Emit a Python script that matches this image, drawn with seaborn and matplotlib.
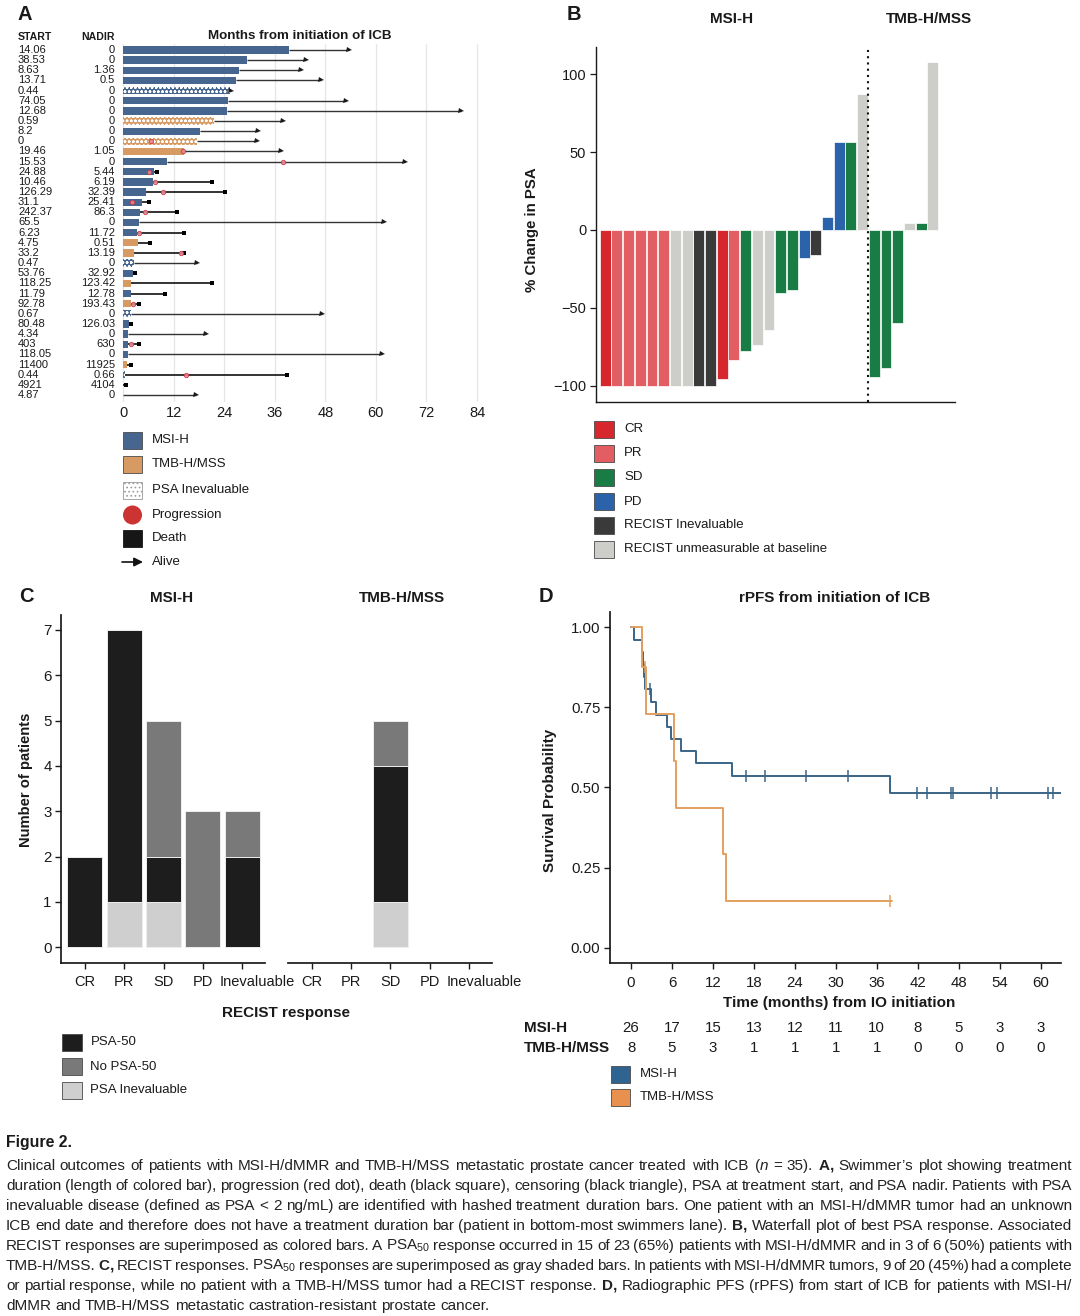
import numpy as np
import pandas as pd
import matplotlib
matplotlib.use("Agg")
import matplotlib.pyplot as plt
import matplotlib.transforms as mtrans
from matplotlib import font_manager
from matplotlib.patches import Rectangle, Circle
import seaborn as sns

# ======================= DATA =======================
M, T = "MSI-H", "TMB-H/MSS"

# ---- Panel A: swimmer plot (rows from top to bottom)
a_start = ["14.06", "38.53", "8.63", "13.71", "0.44", "74.05", "12.68", "0.59", "8.2", "0",
           "19.46", "15.53", "24.88", "10.46", "126.29", "31.1", "242.37", "65.5", "6.23", "4.75",
           "33.2", "0.47", "53.76", "118.25", "11.79", "92.78", "0.67", "80.48", "4.34", "403",
           "118.05", "11400", "0.44", "4921", "4.87"]
a_nadir = ["0", "0", "1.36", "0.5", "0", "0", "0", "0", "0", "0",
           "1.05", "0", "5.44", "6.19", "32.39", "25.41", "86.3", "0", "11.72", "0.51",
           "13.19", "0", "32.92", "123.42", "12.78", "193.43", "0", "126.03", "0", "630",
           "0", "11925", "0.66", "4104", "0"]
a_group = [M, M, M, M, M, M, M, T, M, T,
           T, M, M, M, M, M, M, M, M, T,
           T, M, M, T, M, T, M, M, M, M,
           M, T, M, M, M]
a_duration = [39.4, 29.4, 27.5, 26.7, 25.4, 24.9, 24.6, 21.6, 18.3, 17.6,
              14.5, 10.5, 7.4, 7.2, 5.5, 4.5, 4.0, 3.7, 3.4, 3.5,
              2.6, 2.6, 2.3, 2.0, 2.0, 1.8, 1.8, 1.5, 1.2, 1.2,
              1.2, 0.9, 0.5, 0.0, 0.0]
a_psa_ineval = [0, 0, 0, 0, 1, 0, 0, 1, 0, 1,
                0, 0, 0, 0, 0, 0, 0, 0, 0, 0,
                0, 1, 0, 0, 0, 0, 1, 0, 0, 0,
                0, 0, 1, 0, 0]
nan = np.nan
a_progression = [nan, nan, nan, nan, nan, nan, nan, nan, nan, 6.6,
                 14.2, 37.9, 6.2, 7.5, 9.4, 2.1, 5.3, nan, 3.7, nan,
                 13.7, nan, nan, nan, nan, 2.3, nan, nan, nan, 1.9,
                 nan, nan, 15.0, nan, nan]
a_last_followup = [53.6, 43.4, 42.2, 47.1, 25.6, 52.8, 80.1, 37.9, 32.0, 31.7,
                   37.5, 66.8, 8.1, 21.0, 24.1, 6.2, 12.9, 61.9, 14.5, 6.5,
                   14.5, 17.6, 2.9, 21.0, 9.9, 3.7, 47.2, 2.0, 19.8, 3.7,
                   61.4, 1.9, 38.8, 0.6, 17.3]
a_outcome = ["Alive"] * 12 + ["Death"] * 5 + [
    "Alive", "Death", "Death", "Death", "Alive", "Death", "Death", "Death", "Death",
    "Alive", "Death", "Alive", "Death", "Alive", "Death", "Death", "Death", "Alive"]
a_ticks = [0, 12, 24, 36, 48, 60, 72, 84]

# ---- Panel B: waterfall of best PSA change
CR, PR, SD, PD = "CR", "PR", "SD", "PD"
RI, RU = "RECIST Inevaluable", "RECIST unmeasurable at baseline"
b_change = [-100, -100, -100, -100, -100, -100, -100, -100, -100, -100,
            -95.7, -83.7, -77.5, -74.1, -64.0, -40.5, -38.3, -18.0, -16.3, 8.6,
            56.3, 56.3, 87.6,
            -94.2, -88.9, -60.0, 4.3, 4.7, 107.9]
b_recist = [CR, PR, PR, PR, PR, PR, RU, RU, RI, RI,
            CR, PR, SD, RU, RU, SD, SD, PD, RI, PD,
            PD, SD, RU,
            SD, SD, SD, RU, SD, RU]
b_cohort = [M] * 23 + [T] * 6
b_yticks = [-100, -50, 0, 50, 100]

# ---- Panel C: RECIST response counts
c_response = ["CR", "PR", "SD", "PD", "Inevaluable"]
c_msi_psa50 = [2, 6, 1, 0, 2]
c_msi_no_psa50 = [0, 0, 3, 3, 1]
c_msi_psa_ineval = [0, 1, 1, 0, 0]
c_tmb_psa50 = [0, 0, 3, 0, 0]
c_tmb_no_psa50 = [0, 0, 1, 0, 0]
c_tmb_psa_ineval = [0, 0, 1, 0, 0]

# ---- Panel D: Kaplan-Meier rPFS
km_msi_time = [0, 0.4, 1.6, 1.75, 1.9, 2.05, 2.9, 3.7, 5.2, 5.8, 7.3, 9.5, 14.8, 38.0, 63.0]
km_msi_surv = [1.0, 0.962, 0.923, 0.885, 0.846, 0.808, 0.767, 0.727, 0.690, 0.652,
               0.613, 0.575, 0.537, 0.484, 0.484]
km_msi_censor = [2.8, 16.9, 19.6, 25.7, 31.8, 41.9, 43.3, 46.9, 47.2, 52.7, 53.6, 61.1, 61.8]
km_tmb_time = [0, 1.6, 2.15, 6.3, 6.6, 13.5, 13.9, 38.2]
km_tmb_surv = [1.0, 0.875, 0.729, 0.583, 0.437, 0.292, 0.146, 0.146]
km_tmb_censor = [2.0, 38.0]
d_risk_times = [0, 6, 12, 18, 24, 30, 36, 42, 48, 54, 60]
d_risk_msi = [26, 17, 15, 13, 12, 11, 10, 8, 5, 3, 3]
d_risk_tmb = [8, 5, 3, 1, 1, 1, 1, 0, 0, 0, 0]

# ---- Caption
caption_title = "Figure 2."
caption_lines = [
    r"Clinical outcomes of patients with MSI-H/dMMR and TMB-H/MSS metastatic prostate cancer treated with ICB ($n$ = 35). $\mathbf{A,}$ Swimmer’s plot showing treatment",
    r"duration (length of colored bar), progression (red dot), death (black square), censoring (black triangle), PSA at treatment start, and PSA nadir. Patients with PSA",
    r"inevaluable disease (defined as PSA < 2 ng/mL) are identified with hashed treatment duration bars. One patient with an MSI-H/dMMR tumor had an unknown",
    r"ICB end date and therefore does not have a treatment duration bar (patient in bottom-most swimmers lane). $\mathbf{B,}$ Waterfall plot of best PSA response. Associated",
    r"RECIST responses are superimposed as colored bars. A PSA$_{50}$ response occurred in 15 of 23 (65%) patients with MSI-H/dMMR and in 3 of 6 (50%) patients with",
    r"TMB-H/MSS. $\mathbf{C,}$ RECIST responses. PSA$_{50}$ responses are superimposed as gray shaded bars. In patients with MSI-H/dMMR tumors, 9 of 20 (45%) had a complete",
    r"or partial response, while no patient with a TMB-H/MSS tumor had a RECIST response. $\mathbf{D,}$ Radiographic PFS (rPFS) from start of ICB for patients with MSI-H/",
    r"dMMR and TMB-H/MSS metastatic castration-resistant prostate cancer.",
]

# ======================= STYLE =======================
sns.set_theme(style="white")
FONT = "Liberation Sans"
plt.rcParams["font.family"] = [FONT, "DejaVu Sans"]
plt.rcParams["text.color"] = "#1a1a1a"
plt.rcParams["axes.labelcolor"] = "#1a1a1a"
plt.rcParams["xtick.color"] = "#1a1a1a"
plt.rcParams["ytick.color"] = "#1a1a1a"
plt.rcParams["axes.edgecolor"] = "#1a1a1a"
plt.rcParams["hatch.linewidth"] = 0.7

names = {f.name for f in font_manager.fontManager.ttflist}
CAP_FONT = "Liberation Sans Narrow" if "Liberation Sans Narrow" in names else FONT
plt.rcParams["mathtext.fontset"] = "custom"
plt.rcParams["mathtext.rm"] = CAP_FONT
plt.rcParams["mathtext.it"] = CAP_FONT + ":italic"
plt.rcParams["mathtext.bf"] = CAP_FONT + ":bold"

col_group = {M: "#46658f", T: "#d69a62"}
b_palette = {CR: "#d6262e", PR: "#e35e62", SD: "#1a7c45", PD: "#2a63a9",
             RI: "#3a3a3a", RU: "#cdcdca"}
c_palette = {"PSA-50": "#1d1d1d", "No PSA-50": "#797979", "PSA Inevaluable": "#cfcfcf"}
d_palette = {M: "#3a6587", T: "#e39f60"}
d_leg_palette = {M: "#2f6491", T: "#e8914e"}

W, H = 1080, 1316
fig = plt.figure(figsize=(W / 100, H / 100), dpi=100)


def add_ax(l, t, r, b):
    return fig.add_axes([l / W, 1 - b / H, (r - l) / W, (b - t) / H])


# ======================= PANEL A =======================
KA = 354 / 84.0
a_xlim = (-0.5, 86.0)
a_ylim = (34.69, -0.59)
ax_a = add_ax(123 + a_xlim[0] * KA, 44, 123 + a_xlim[1] * KA, 402)
n_rows = len(a_start)
rows = np.arange(n_rows)
for i in rows:
    dur, end = a_duration[i], a_last_followup[i]
    alive = a_outcome[i] == "Alive"
    if end > dur:
        ax_a.plot([dur, end], [i, i], color="#333333" if alive else "#111111",
                  lw=1.0 if alive else 1.2, zorder=2, solid_capstyle="butt")
    if dur > 0:
        col = col_group[a_group[i]]
        if a_psa_ineval[i]:
            ax_a.barh(i, dur, height=0.72, color=col, edgecolor="white", hatch="oooo",
                      linewidth=0, zorder=3)
        else:
            ax_a.barh(i, dur, height=0.72, color=col, linewidth=0, zorder=3)
    if alive:
        ax_a.plot(end, i, marker=">", ms=3.6, color="#1a1a1a", mew=0, zorder=5)
    else:
        ax_a.plot(end, i, marker="s", ms=3.4, color="black", mew=0, zorder=5)
    if not np.isnan(a_progression[i]):
        ax_a.plot(a_progression[i], i, marker="o", ms=3.2, mfc="#e8858f",
                  mec="#cc3344", mew=0.6, alpha=0.9, zorder=6)

ax_a.set_xlim(*a_xlim)
ax_a.set_ylim(*a_ylim)
ax_a.set_xticks(a_ticks)
ax_a.set_yticks([])
ax_a.grid(axis="x", color="#e6e6e6", lw=0.9)
ax_a.set_axisbelow(True)
for s in ax_a.spines.values():
    s.set_visible(False)
ax_a.tick_params(axis="x", length=0, labelsize=10.5, pad=3)
ax_a.patch.set_visible(False)

tr_rows = mtrans.blended_transform_factory(fig.transFigure, ax_a.transData)
for i in rows:
    ax_a.text(18 / W, i, a_start[i], transform=tr_rows, ha="left", va="center",
              fontsize=8, clip_on=False)
    ax_a.text(115 / W, i, a_nadir[i], transform=tr_rows, ha="right", va="center",
              fontsize=8, clip_on=False)

# ======================= PANEL B =======================
KB = 11.70
b_x0 = 605.2
b_xlim = (-0.79, 29.9)
b_ylim = (-110.7, 117.7)
ax_b = add_ax(b_x0 + b_xlim[0] * KB, 46.7, b_x0 + b_xlim[1] * KB, 402.3)
dfb = pd.DataFrame({"patient": np.arange(len(b_change)), "change": b_change,
                    "recist": b_recist, "cohort": b_cohort})
sns.barplot(data=dfb, x="patient", y="change", hue="recist", hue_order=list(b_palette),
            palette=b_palette, dodge=False, width=0.93, saturation=1, errorbar=None,
            edgecolor="white", linewidth=0.5, legend=False, ax=ax_b)
n_msi = sum(1 for c in b_cohort if c == M)
ax_b.axvline(n_msi - 0.5, color="#111111", lw=1.5, ls=(0, (1, 2)), zorder=5)
ax_b.set_xlim(*b_xlim)
ax_b.set_ylim(*b_ylim)
ax_b.set_yticks(b_yticks)
ax_b.set_xticks([])
ax_b.set_xlabel("")
ax_b.set_ylabel("")
sns.despine(ax=ax_b)
for s in ("left", "bottom"):
    ax_b.spines[s].set_linewidth(1.0)
ax_b.tick_params(axis="y", length=4, width=0.9, labelsize=10.5, pad=3, left=True)

# ======================= PANEL C =======================
c_xlim = (-0.594, 4.576)
c_ylim = (-0.34, 7.33)
ax_c1 = add_ax(61.3, 615, 265, 962.7)
ax_c2 = add_ax(287.9, 615, 492.4, 962.7)
for ax, ps, nps, ine in [(ax_c1, c_msi_psa50, c_msi_no_psa50, c_msi_psa_ineval),
                         (ax_c2, c_tmb_psa50, c_tmb_no_psa50, c_tmb_psa_ineval)]:
    ps, nps, ine = np.array(ps), np.array(nps), np.array(ine)
    layers = [(ps + nps + ine, c_palette["No PSA-50"]),
              (ps + ine, c_palette["PSA-50"]),
              (ine, c_palette["PSA Inevaluable"])]
    for vals, col in layers:
        sns.barplot(x=c_response, y=vals, order=c_response, color=col, saturation=1,
                    width=0.89, errorbar=None, edgecolor="#eeeeee", linewidth=0.7, ax=ax)
    for p in list(ax.patches):
        if p.get_height() == 0:
            p.remove()
    ax.set_xlim(*c_xlim)
    ax.set_ylim(*c_ylim)
    ax.set_xlabel("")
    ax.set_ylabel("")
    ax.tick_params(axis="x", length=4, width=1.0, labelsize=10.5, pad=5, bottom=True)
    sns.despine(ax=ax)
    # the last category label sits a little to the right of its tick, as in the original
    lab = ax.get_xticklabels()[-1]
    lab.set_transform(lab.get_transform() +
                      mtrans.ScaledTranslation(15 / 100, 0, fig.dpi_scale_trans))
ax_c1.set_yticks(range(0, 8))
ax_c1.tick_params(axis="y", length=4, width=1.0, labelsize=10.8, pad=3, left=True)
ax_c2.spines["left"].set_visible(False)
ax_c2.set_yticks([])
ax_c2.set_xlim(-0.60, 4.589)

# ======================= PANEL D =======================
ax_d = add_ax(610, 612.3, 1061, 963.3)


def step_at(times, surv, t):
    idx = np.searchsorted(np.asarray(times), t, side="right") - 1
    return np.asarray(surv)[idx]


for g, tt, ss, cc in [(M, km_msi_time, km_msi_surv, km_msi_censor),
                      (T, km_tmb_time, km_tmb_surv, km_tmb_censor)]:
    sns.lineplot(x=tt, y=ss, drawstyle="steps-post", color=d_palette[g], lw=1.4,
                 estimator=None, ax=ax_d)
    ax_d.plot(cc, step_at(tt, ss, cc), ls="none", marker="|", ms=8, mew=1.1,
              color=d_palette[g])
ax_d.set_xlim(-3.08, 63.0)
ax_d.set_ylim(-0.049, 1.047)
ax_d.set_xticks(d_risk_times)
ax_d.set_yticks([0, 0.25, 0.5, 0.75, 1.0])
ax_d.set_yticklabels([f"{v:.2f}" for v in [0, 0.25, 0.5, 0.75, 1.0]])
ax_d.set_xlabel("")
ax_d.set_ylabel("")
sns.despine(ax=ax_d)
ax_d.tick_params(axis="both", length=4, width=1.0, labelsize=10.8, left=True, bottom=True)
ax_d.tick_params(axis="x", pad=5)
ax_d.tick_params(axis="y", pad=3)

# ======================= OVERLAY (text, legends) =======================
ov = fig.add_axes([0, 0, 1, 1])
ov.set_xlim(0, W)
ov.set_ylim(H, 0)
ov.axis("off")
ov.patch.set_visible(False)

bold = dict(fontweight="bold")
# panel letters
for letter, x, y in [("A", 18, 15), ("B", 567, 15), ("C", 19, 596), ("D", 539, 596)]:
    ov.text(x, y, letter, fontsize=14.5, ha="left", va="center", **bold)

# panel A headers
ov.text(18, 37, "START", fontsize=7.6, ha="left", va="center", **bold)
ov.text(115, 37, "NADIR", fontsize=7.6, ha="right", va="center", **bold)
ov.text(300, 36, "Months from initiation of ICB", fontsize=9.6, ha="center", va="center", **bold)

# panel B titles / labels
ov.text(732, 19, M, fontsize=11, ha="center", va="center", **bold)
ov.text(929, 19, T, fontsize=11, ha="center", va="center", **bold)
ov.text(532, 230, "% Change in PSA", fontsize=10.8, rotation=90, ha="center", va="center", **bold)

# panel C titles / labels
ov.text(172, 598, M, fontsize=11, ha="center", va="center", **bold)
ov.text(402, 598, T, fontsize=11, ha="center", va="center", **bold)
ov.text(26, 780, "Number of patients", fontsize=10.6, rotation=90, ha="center", va="center", **bold)
ov.text(286, 1013, "RECIST response", fontsize=11, ha="center", va="center", **bold)

# panel D titles / labels
ov.text(835, 598, "rPFS from initiation of ICB", fontsize=11, ha="center", va="center", **bold)
ov.text(550, 800, "Survival Probability", fontsize=11, rotation=90, ha="center", va="center", **bold)
ov.text(839, 1003, "Time (months) from IO initiation", fontsize=11, ha="center", va="center", **bold)

# risk table
tr_risk = mtrans.blended_transform_factory(ax_d.transData, ov.transData)
ov.text(524, 1028, M, fontsize=11, ha="left", va="center", **bold)
ov.text(524, 1048, T, fontsize=11, ha="left", va="center", **bold)
for t, nm, nt in zip(d_risk_times, d_risk_msi, d_risk_tmb):
    ov.text(t, 1028, str(nm), transform=tr_risk, fontsize=10.8, ha="center", va="center")
    ov.text(t, 1048, str(nt), transform=tr_risk, fontsize=10.8, ha="center", va="center")


def leg_square(x, yc, color, w=19, h=17, edge="#4a4a4a", hatch=None, lw=0.6):
    ov.add_patch(Rectangle((x, yc - h / 2), w, h, facecolor=color, edgecolor=edge,
                           lw=lw, hatch=hatch))


LEG_FS = 9.5
# legend A
leg_a = [(col_group[M], M), (col_group[T], T)]
ys_a = [440, 464, 490, 515, 538, 562]
for (c, lab), y in zip(leg_a, ys_a[:2]):
    leg_square(123, y, c)
    ov.text(152, y, lab, fontsize=LEG_FS, ha="left", va="center")
leg_square(123, ys_a[2], "white", edge="#9a9a9a", hatch="....", lw=0.6)
ov.text(152, ys_a[2], "PSA Inevaluable", fontsize=LEG_FS, ha="left", va="center")
ov.add_patch(Circle((132.5, ys_a[3]), 9.5, facecolor="#cc3333", edgecolor="none"))
ov.text(152, ys_a[3], "Progression", fontsize=LEG_FS, ha="left", va="center")
leg_square(123, ys_a[4], "#161616", edge="#161616")
ov.text(152, ys_a[4], "Death", fontsize=LEG_FS, ha="left", va="center")
ov.annotate("", xy=(143, ys_a[5]), xytext=(122, ys_a[5]),
            arrowprops=dict(arrowstyle="-|>", color="#111111", lw=1.2, mutation_scale=13,
                            shrinkA=0, shrinkB=0))
ov.text(152, ys_a[5], "Alive", fontsize=LEG_FS, ha="left", va="center")

# legend B
ys_b = [429, 453.3, 477.3, 501.7, 525, 549.3]
for (lab, c), y in zip(b_palette.items(), ys_b):
    leg_square(594, y, c, w=20)
    ov.text(624, y, lab, fontsize=LEG_FS, ha="left", va="center")

# legend C
ys_c = [1042, 1066.5, 1090]
for (lab, c), y in zip(c_palette.items(), ys_c):
    leg_square(62, y, c, w=20)
    ov.text(90.5, y, lab, fontsize=LEG_FS, ha="left", va="center")

# legend D
ys_d = [1074, 1097.5]
for (lab, c), y in zip(d_leg_palette.items(), ys_d):
    leg_square(611, y, c, w=19)
    ov.text(639.5, y, lab, fontsize=LEG_FS, ha="left", va="center")

# ======================= CAPTION =======================
renderer = fig.canvas.get_renderer()


def text_width(s, size):
    t = fig.text(0, 0, s, fontsize=size, family=CAP_FONT)
    w = t.get_window_extent(renderer=renderer).width
    t.remove()
    return w


CAP_L, CAP_R = 6, 1072
base = 10.0
cap_size = base * (CAP_R - CAP_L) / text_width(caption_lines[0], base) * 0.99
ov.text(CAP_L, 1143, caption_title, fontsize=cap_size + 0.5, ha="left", va="center",
        family=CAP_FONT, fontweight="bold")
space_w = text_width("a a", cap_size) - text_width("aa", cap_size)
for k, line in enumerate(caption_lines):
    yb = 1170 + 20 * k
    words = line.split(" ")
    widths = [text_width(wd, cap_size) for wd in words]
    if k < len(caption_lines) - 1 and len(words) > 1:
        gap = ((CAP_R - CAP_L) - sum(widths)) / (len(words) - 1)
    else:
        gap = space_w
    x = CAP_L
    for wd, wdt in zip(words, widths):
        ov.text(x, yb, wd, fontsize=cap_size, ha="left", va="baseline",
                family=CAP_FONT, color="#222222")
        x += wdt + gap

fig.savefig("out.png", dpi=100)
